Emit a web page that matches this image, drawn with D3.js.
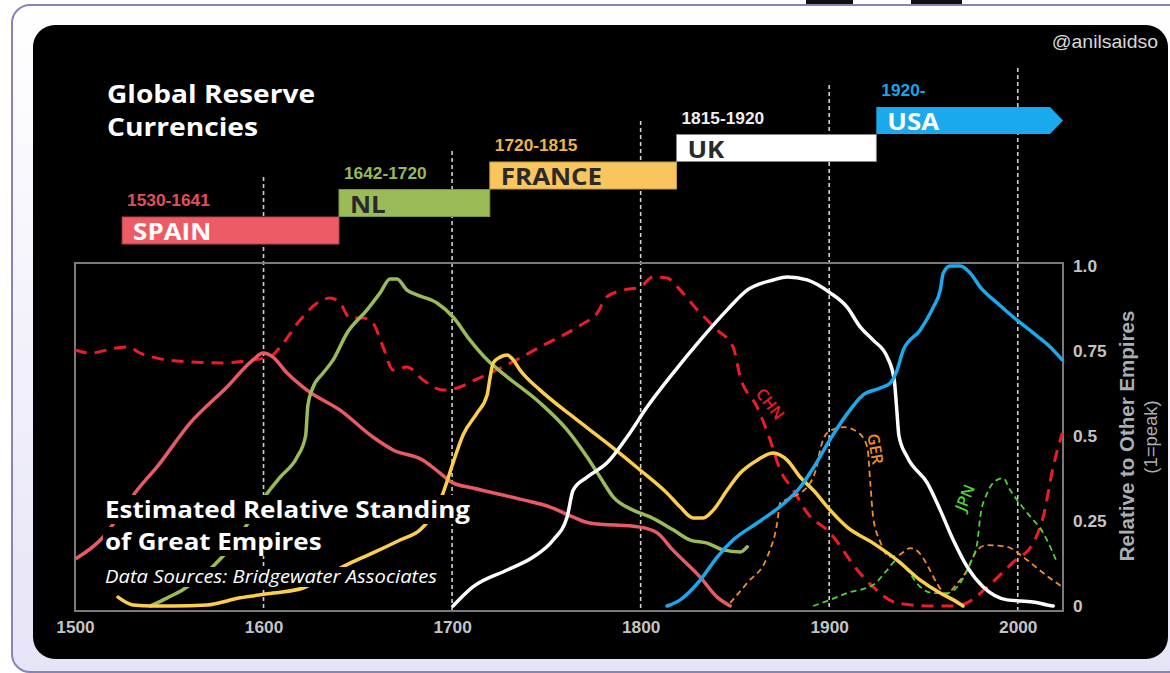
<!DOCTYPE html>
<html><head><meta charset="utf-8">
<script src="https://cdn.jsdelivr.net/npm/d3@7"></script>
<style>html,body{margin:0;padding:0;background:#fff;overflow:hidden}</style>
</head><body>
<svg id="c" width="1170" height="673"></svg>
<script>
// ---------- data ----------
const xTickYears = [1500, 1600, 1700, 1800, 1900, 2000];
const xTickLabels = ["1500", "1600", "1700", "1800", "1900", "2000"];
const yTickValues = [0, 0.25, 0.5, 0.75, 1];
const yTickLabels = ["0", "0.25", "0.5", "0.75", "1.0"];

const reserveNames = ["SPAIN", "NL", "FRANCE", "UK", "USA"];
const reservePeriods = ["1530-1641", "1642-1720", "1720-1815", "1815-1920", "1920-"];
const reserveStart = [1525, 1640, 1720, 1819, 1925];
const reserveEnd = [1640, 1720, 1819, 1925, 2024];

const spain = [[1501,0.141],[1515,0.203],[1524,0.27],[1533,0.341],[1543.5,0.409],[1561,0.538],[1580.6,0.644],[1594.4,0.724],[1599.7,0.744],[1605,0.732],[1612.5,0.685],[1623,0.635],[1640.6,0.576],[1658,0.497],[1668.7,0.459],[1684.6,0.429],[1693.6,0.391],[1700.5,0.362],[1711,0.347],[1737.7,0.312],[1752,0.291],[1764,0.262],[1773,0.244],[1799.7,0.232],[1808.8,0.215],[1817,0.165],[1831.6,0.085],[1840.6,0.026],[1847.5,0]];
const netherlands = [[1540,0],[1549,0.024],[1557,0.047],[1570,0.1],[1585,0.19],[1596,0.28],[1602,0.332],[1608.8,0.379],[1617.8,0.438],[1622.3,0.5],[1623.5,0.59],[1626,0.64],[1631.6,0.685],[1636.9,0.724],[1644.3,0.803],[1654.9,0.871],[1661.8,0.921],[1667.1,0.962],[1670.8,0.962],[1676.1,0.929],[1681.4,0.915],[1692,0.891],[1700.5,0.85],[1709.5,0.782],[1718.6,0.724],[1729.2,0.674],[1746.7,0.597],[1761,0.518],[1771.6,0.438],[1778.5,0.379],[1785.4,0.321],[1796,0.282],[1805,0.262],[1817.2,0.224],[1826.3,0.194],[1835.3,0.185],[1843.8,0.165],[1852.8,0.159],[1856.5,0.174]];
const france = [[1522.8,0.026],[1530.8,0.003],[1541.4,0],[1552,0],[1570,0.003],[1587.5,0.024],[1605,0.038],[1621,0.053],[1633,0.088],[1645.9,0.126],[1658,0.156],[1672.4,0.194],[1683,0.224],[1690,0.27],[1695.2,0.332],[1700.5,0.421],[1705.8,0.503],[1713.3,0.568],[1718.6,0.621],[1720.2,0.674],[1721.8,0.715],[1725.5,0.732],[1729.2,0.738],[1732.4,0.724],[1736,0.694],[1746.7,0.635],[1764.2,0.556],[1782.2,0.479],[1799.7,0.4],[1814,0.332],[1821,0.291],[1827.9,0.259],[1833.2,0.259],[1838.5,0.282],[1845.9,0.341],[1852.8,0.391],[1861.8,0.429],[1870.3,0.45],[1877.7,0.429],[1884.6,0.379],[1891.5,0.341],[1900.5,0.282],[1909.5,0.232],[1923.3,0.185],[1936,0.135],[1948.3,0.076],[1958.9,0.038],[1965.8,0.018],[1971,0]];
const unitedKingdom = [[1700.5,0],[1711,0.056],[1729.2,0.106],[1743,0.144],[1753.6,0.194],[1761,0.262],[1764.2,0.341],[1771.6,0.379],[1782.2,0.421],[1792.8,0.497],[1803.4,0.585],[1817.2,0.685],[1831.6,0.782],[1845.9,0.871],[1856.5,0.929],[1870.3,0.959],[1877.7,0.968],[1888.3,0.959],[1900.5,0.921],[1909.5,0.879],[1916.4,0.821],[1923.3,0.782],[1930.8,0.732],[1934.5,0.665],[1935.8,0.58],[1937,0.5],[1941.4,0.438],[1952,0.362],[1958.9,0.282],[1965.8,0.194],[1973.2,0.115],[1981.7,0.056],[1994.4,0.018],[2008.2,0.012],[2015.6,0.003],[2018.8,0]];
const unitedStates = [[1814,0],[1821,0.018],[1831.6,0.076],[1840.6,0.144],[1849,0.194],[1861.8,0.244],[1875.6,0.3],[1884,0.345],[1892,0.41],[1900.5,0.49],[1909.5,0.565],[1918,0.621],[1927,0.641],[1932.4,0.656],[1936,0.694],[1939.3,0.753],[1948.3,0.812],[1955.2,0.879],[1958.9,0.929],[1960.5,0.979],[1964.2,1.0],[1969.5,1.0],[1974.8,0.979],[1980.1,0.938],[1989.1,0.891],[1997.6,0.85],[2008.2,0.803],[2017.2,0.762],[2023.6,0.724]];
const china = [[1500,0.753],[1508,0.744],[1522,0.759],[1528,0.762],[1534.5,0.744],[1543.5,0.729],[1561,0.718],[1578.5,0.715],[1594.4,0.724],[1603.4,0.732],[1608.8,0.762],[1619.4,0.841],[1628.4,0.891],[1635.3,0.906],[1640.6,0.891],[1645.9,0.847],[1652.8,0.847],[1658,0.832],[1663.4,0.762],[1668.7,0.694],[1676,0.703],[1684.6,0.665],[1695,0.635],[1702.6,0.641],[1711,0.662],[1729,0.709],[1746.7,0.762],[1768,0.826],[1777,0.862],[1782,0.909],[1790.7,0.929],[1799.7,0.938],[1806.6,0.968],[1814,0.965],[1821,0.929],[1830,0.871],[1840.6,0.812],[1849,0.762],[1852.8,0.674],[1861.8,0.585],[1868.7,0.488],[1874,0.4],[1881,0.341],[1888.3,0.274],[1900.5,0.215],[1914.9,0.106],[1923.3,0.056],[1936,0.009],[1953.6,0],[1965.8,0],[1973,0.009],[1983.8,0.056],[1997.6,0.129],[2008.2,0.185],[2013.5,0.262],[2018.8,0.409],[2023.6,0.509]];
const germany = [[1847.5,0.009],[1856.5,0.068],[1867.1,0.144],[1872.4,0.244],[1874,0.303],[1880.9,0.321],[1889.9,0.362],[1893.6,0.415],[1895.2,0.459],[1898.9,0.509],[1907.4,0.526],[1914.9,0.512],[1920.2,0.468],[1921.8,0.362],[1923.3,0.262],[1927,0.19],[1932,0.145],[1937,0.15],[1943,0.17],[1948,0.155],[1953,0.11],[1957.3,0.065],[1962,0.035],[1967,0.06],[1973.2,0.106],[1978.5,0.165],[1983.8,0.179],[1994.4,0.174],[2002.9,0.144],[2013.5,0.097],[2023.6,0.056]];
const japan = [[1891.5,0],[1900.5,0.018],[1909.5,0.038],[1923.3,0.062],[1930.8,0.106],[1936,0.135],[1941.4,0.106],[1948.3,0.056],[1955.2,0.038],[1962.6,0.038],[1969.5,0.068],[1974.8,0.126],[1978.5,0.185],[1980.1,0.262],[1983.8,0.332],[1989.1,0.371],[1992.3,0.376],[1996,0.341],[2005,0.274],[2013.5,0.215],[2021,0.126]];

// ---------- drawing ----------
const svg = d3.select("#c");
const OPEN = "'Open Sans', 'DejaVu Sans', sans-serif";
const ARIAL = "'Liberation Sans', Arial, sans-serif";
const K = 1.08; // horizontal widening of lettering seen in the reference
function stretch(sel, k = K) {
  sel.each(function () {
    const L = this.getComputedTextLength();
    d3.select(this).attr("textLength", L * k).attr("lengthAdjust", "spacingAndGlyphs");
  });
  return sel;
}
function fitTo(sel, len) {
  return sel.attr("textLength", len).attr("lengthAdjust", "spacingAndGlyphs");
}

// outer frame
const defs = svg.append("defs");
const grad = defs.append("linearGradient").attr("id","frameGrad").attr("x1",0).attr("y1",0).attr("x2",0).attr("y2",1);
grad.append("stop").attr("offset","0%").attr("stop-color","#ffffff");
grad.append("stop").attr("offset","100%").attr("stop-color","#e6e4f7");
svg.append("rect").attr("x",806).attr("y",-4).attr("width",47).attr("height",10).attr("fill","#111");
svg.append("rect").attr("x",911).attr("y",-4).attr("width",51).attr("height",10).attr("fill","#111");
svg.append("rect").attr("x",12).attr("y",5).attr("width",1200).attr("height",667)
  .attr("rx",18).attr("fill","url(#frameGrad)").attr("stroke","#8a83b8").attr("stroke-width",2);
// black panel
svg.append("rect").attr("x",33).attr("y",25).attr("width",1135).attr("height",634)
  .attr("rx",22).attr("fill","#000");

const x = d3.scaleLinear().domain([1500, 2024]).range([75, 1063]);
const y = d3.scaleLinear().domain([0, 1]).range([606, 266]);
const boxTop = y(1) - 3, boxBottom = y(0) + 5;

// dashed vertical guides (extend above plot into header)
const guideTops = [177, 151, 121, 85, 68];
svg.append("g").selectAll("line").data(xTickYears.slice(1)).join("line")
  .attr("x1", d => x(d)).attr("x2", d => x(d))
  .attr("y1", (d,i) => guideTops[i]).attr("y2", boxBottom)
  .attr("stroke", "#d0d0d0").attr("stroke-width", 1.6).attr("stroke-dasharray", "4,3");

// plot box
svg.append("rect").attr("x", x(1500)).attr("y", boxTop)
  .attr("width", x(2024) - x(1500)).attr("height", boxBottom - boxTop)
  .attr("fill", "none").attr("stroke", "#7a7a7a").attr("stroke-width", 2);

// header title
const titleLines = ["Global Reserve", "Currencies"];
const titleWidths = [208, 151];
titleLines.forEach((t, i) => {
  fitTo(svg.append("text").attr("x",107).attr("y",102.5 + i * 33.5).attr("fill","#fff")
    .attr("font-family",OPEN).attr("font-weight",700).attr("font-size",24.5).text(t), titleWidths[i]);
});

stretch(svg.append("text").attr("x",1158).attr("y",48).attr("text-anchor","end")
  .attr("fill","#d8d8d8").attr("font-family",ARIAL).attr("font-size",18).text("@anilsaidso"));

// reserve currency bars
const barFill = ["#ec5b66", "#9bbb59", "#f9c55e", "#ffffff", "#1aa9ec"];
const barStroke = ["#b8424a", "#7a9540", "#c89a3c", "#8a8a8a", "#1aa9ec"];
const periodColor = ["#e0505a", "#98b955", "#f0b443", "#eeeeee", "#1aa6e6"];
const nameColor = ["#ffffff", "#2a2a2a", "#2a2a2a", "#2a2a2a", "#ffffff"];
const barH = 27, barStep = 27.5, barBase = 217;
const bars = svg.append("g");
reserveNames.forEach((name, i) => {
  const top = barBase - i * barStep;
  const x0 = x(reserveStart[i]), x1 = x(reserveEnd[i]);
  if (i === reserveNames.length - 1) {
    const tip = 13;
    bars.append("path")
      .attr("d", `M${x0},${top}H${x1 - tip}L${x1},${top + barH/2}L${x1 - tip},${top + barH}H${x0}Z`)
      .attr("fill", barFill[i]);
  } else {
    bars.append("rect").attr("x", x0).attr("y", top).attr("width", x1 - x0).attr("height", barH)
      .attr("fill", barFill[i]).attr("stroke", barStroke[i]).attr("stroke-width", 1);
  }
  stretch(bars.append("text").attr("x", x0 + 11).attr("y", top + barH - 4)
    .attr("fill", nameColor[i]).attr("font-family", OPEN).attr("font-weight", 700)
    .attr("font-size", 24).text(name));
  stretch(bars.append("text").attr("x", x0 + 5).attr("y", top - 11)
    .attr("fill", periodColor[i]).attr("font-family", ARIAL).attr("font-weight", 700)
    .attr("font-size", 16).text(reservePeriods[i]));
});

// series lines
const line = d3.line().x(d => x(d[0])).y(d => y(d[1])).curve(d3.curveMonotoneX);
const series = [
  {data: china, color: "#ee1c25", w: 3, dash: "12,8"},
  {data: germany, color: "#f08c2e", w: 1.8, dash: "6,4"},
  {data: japan, color: "#4fd03b", w: 1.8, dash: "6,4"},
  {data: spain, color: "#e85b64", w: 3.5},
  {data: netherlands, color: "#9bbb59", w: 3.5},
  {data: france, color: "#fcce4c", w: 3.5},
  {data: unitedKingdom, color: "#ffffff", w: 3.5},
  {data: unitedStates, color: "#1aa9ec", w: 3.5}
];
const lines = svg.append("g").attr("fill","none");
series.forEach(s => {
  lines.append("path").attr("d", line(s.data)).attr("stroke", s.color)
    .attr("stroke-width", s.w).attr("stroke-dasharray", s.dash || null)
    .attr("stroke-linecap", s.dash ? "butt" : "round").attr("stroke-linejoin","round");
});

// series labels
const seriesLabels = [
  {t: "CHN", yr: 1868.7, v: 0.594, rot: 52, c: "#ee1c25"},
  {t: "GER", yr: 1924.5, v: 0.462, rot: 80, c: "#f08c2e"},
  {t: "JPN", yr: 1972, v: 0.318, rot: -68, c: "#4fd03b"}
];
svg.append("g").selectAll("text").data(seriesLabels).join("text")
  .attr("transform", d => `translate(${x(d.yr)},${y(d.v)}) rotate(${d.rot})`)
  .attr("text-anchor","middle").attr("dy","0.35em")
  .attr("fill", d => d.c).attr("font-family", OPEN).attr("font-weight",600)
  .attr("font-size",16).text(d => d.t);

// axes
const xAxis = svg.append("g").attr("transform", `translate(0,${boxBottom})`)
  .call(d3.axisBottom(x).tickValues(xTickYears).tickFormat((d,i) => xTickLabels[i]).tickSize(0).tickPadding(11));
xAxis.select(".domain").remove();
stretch(xAxis.selectAll("text").attr("fill","#c4c4c4").attr("font-family",ARIAL).attr("font-weight",700).attr("font-size",16));

const yAxis = svg.append("g").attr("transform", `translate(${x(2024)},0)`)
  .call(d3.axisRight(y).tickValues(yTickValues).tickFormat((d,i) => yTickLabels[i]).tickSize(0).tickPadding(10));
yAxis.select(".domain").remove();
stretch(yAxis.selectAll("text").attr("fill","#c4c4c4").attr("font-family",ARIAL).attr("font-weight",700).attr("font-size",16));

svg.append("text").attr("transform","translate(1134,436) rotate(-90)").attr("text-anchor","middle")
  .attr("fill","#a9afb6").attr("font-family",ARIAL).attr("font-weight",700).attr("font-size",20.5)
  .text("Relative to Other Empires");
svg.append("text").attr("transform","translate(1157,437) rotate(-90)").attr("text-anchor","middle")
  .attr("fill","#a9afb6").attr("font-family",ARIAL).attr("font-size",18.5).text("(1=peak)");

// lower-left annotation with black backing boxes
const notes = [
  {t: "Estimated Relative Standing", y: 518, size: 24, w: 700, st: "normal", len: 365},
  {t: "of Great Empires", y: 550, size: 24, w: 700, st: "normal", len: 0},
  {t: "Data Sources: Bridgewater Associates", y: 583, size: 18, w: 400, st: "italic", len: 332}
];
const ng = svg.append("g");
notes.forEach(n => {
  const bg = ng.append("rect").attr("fill","#000");
  const t = ng.append("text").attr("x",105).attr("y",n.y).attr("fill","#fff")
    .attr("font-family",OPEN).attr("font-weight",n.w).attr("font-style",n.st)
    .attr("font-size",n.size).text(n.t);
  if (n.len) fitTo(t, n.len); else stretch(t);
  const b = t.node().getBBox();
  bg.attr("x", b.x - 2).attr("y", b.y + 3).attr("width", b.width + 4).attr("height", b.height - 4);
});
</script>
</body></html>
